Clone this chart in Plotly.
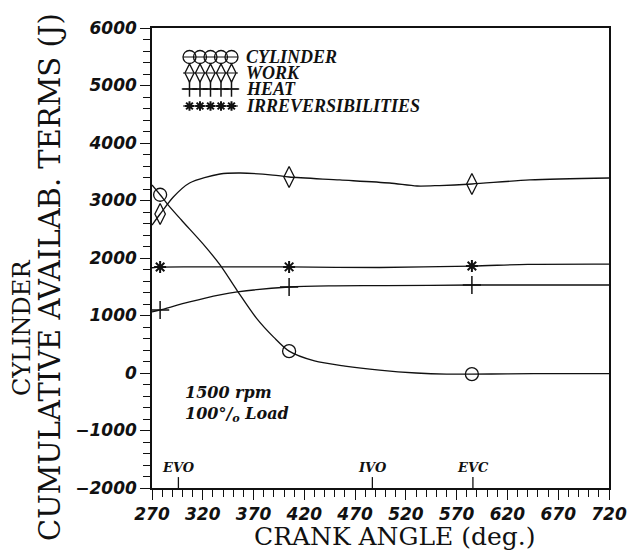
import plotly.graph_objects as go

# ---------------- data ----------------
angle_cyl = [270, 278, 286, 300, 320, 337, 354, 373, 390, 405, 430, 460, 494, 530, 560, 585, 620, 670, 720]
cylinder  = [3270, 3100, 2920, 2640, 2250, 1880, 1430, 950, 620, 380, 210, 120, 50, 0, -20, -20, -15, -10, -10]

angle_work = [270, 278, 291, 307, 337, 357, 389, 405, 455, 504, 531, 553, 585, 642, 720]
work       = [2574, 2765, 3061, 3304, 3461, 3478, 3443, 3409, 3357, 3304, 3252, 3260, 3287, 3357, 3391]

angle_heat = [270, 278, 307, 337, 354, 405, 450, 500, 585, 650, 720]
heat       = [1061, 1096, 1235, 1357, 1409, 1496, 1515, 1520, 1530, 1530, 1530]

angle_irr = [270, 278, 340, 405, 494, 585, 640, 720]
irrev     = [1830, 1843, 1845, 1845, 1835, 1860, 1890, 1895]

marker_angles = [278, 405, 585]

valve_events = ["EVO", "IVO", "EVC"]
valve_angles = [296, 487, 586]

series_names = ["CYLINDER", "WORK", "HEAT", "IRREVERSIBILITIES"]

x_ticks = [270, 320, 370, 420, 470, 520, 570, 620, 670, 720]
y_ticks = [-2000, -1000, 0, 1000, 2000, 3000, 4000, 5000, 6000]

# ---------------- layout geometry ----------------
W, H = 627, 550
L, R, T, B = 152, 18, 28, 62
PW, PH = W - L - R, H - T - B


def px(xp):
    return (xp - L) / PW


def py(yp):
    return (H - B - yp) / PH


SERIF = "Liberation Serif"
WIDE_SERIF = "DejaVu Serif"
SANS = "DejaVu Sans"
INK = "#111111"

styles = [
    dict(symbol="circle-open", size=13, line=dict(width=1.3)),
    dict(symbol="diamond-tall-open", size=15, line=dict(width=1.3)),
    dict(symbol="cross-thin-open", size=13, line=dict(width=1.5)),
    dict(symbol="asterisk-open", size=10, line=dict(width=2)),
]

data_sets = [(angle_cyl, cylinder), (angle_work, work), (angle_heat, heat), (angle_irr, irrev)]

fig = go.Figure()

for (ax, vals), st in zip(data_sets, styles):
    fig.add_trace(go.Scatter(x=ax, y=vals, mode="lines",
                             line=dict(color=INK, width=1.3, shape="spline", smoothing=0.8),
                             hoverinfo="skip", showlegend=False))
    mx = [a for a in ax if a in marker_angles]
    my = [v for a, v in zip(ax, vals) if a in marker_angles]
    fig.add_trace(go.Scatter(x=mx, y=my, mode="markers", marker=dict(color=INK, **st),
                             hoverinfo="skip", showlegend=False))

# ---------------- hand-made legend (pixel overlay axes) ----------------
leg_x = [189.5, 200, 210.5, 221, 231.5]
leg_y = [57, 73, 89, 106]
leg_sizes = [13, 13, 11, 8]
for name, st, yy, sz in zip(series_names, styles, leg_y, leg_sizes):
    fig.add_trace(go.Scatter(x=[183] + leg_x + [238], y=[yy] * 7, mode="lines",
                             line=dict(color=INK, width=1.2), xaxis="x2", yaxis="y2",
                             hoverinfo="skip", showlegend=False))
    st2 = dict(st)
    st2["size"] = sz
    fig.add_trace(go.Scatter(x=leg_x, y=[yy] * 5, mode="markers",
                             marker=dict(color=INK, **st2), xaxis="x2", yaxis="y2",
                             hoverinfo="skip", showlegend=False))
    fig.add_annotation(text="<b><i>%s</i></b>" % name, xref="paper", yref="paper",
                       x=px(244), y=py(yy), xanchor="left", yanchor="middle", showarrow=False,
                       font=dict(family=SERIF, size=18, color=INK))

# ---------------- valve event marks ----------------
for name, a in zip(valve_events, valve_angles):
    fig.add_shape(type="line", x0=a, x1=a, y0=-2000, y1=-1810, xref="x", yref="y",
                  line=dict(color=INK, width=1.3))
    fig.add_annotation(text="<b><i>%s</i></b>" % name, x=a, xref="x", yref="paper", y=py(467),
                       xanchor="center", yanchor="middle", showarrow=False,
                       font=dict(family=WIDE_SERIF, size=13, color=INK))

# operating-point note
fig.add_annotation(text="<b><i>1500 rpm<br>100°/<sub>o</sub> Load</i></b>", xref="paper", yref="paper",
                   x=px(183), y=py(404), xanchor="left", yanchor="middle", align="left",
                   showarrow=False, font=dict(family=WIDE_SERIF, size=16, color=INK))

# axis titles
fig.add_annotation(text="CRANK ANGLE (deg.)", xref="paper", yref="paper", x=px(394), y=py(536),
                   xanchor="center", yanchor="middle", showarrow=False,
                   font=dict(family=WIDE_SERIF, size=25, color=INK))
fig.add_annotation(text="CUMULATIVE AVAILAB. TERMS (J)", xref="paper", yref="paper", x=px(50), y=py(277),
                   xanchor="center", yanchor="middle", textangle=-90, showarrow=False,
                   font=dict(family=WIDE_SERIF, size=29, color=INK))
fig.add_annotation(text="CYLINDER", xref="paper", yref="paper", x=px(22), y=py(328),
                   xanchor="center", yanchor="middle", textangle=-90, showarrow=False,
                   font=dict(family=WIDE_SERIF, size=24, color=INK))

tickfont = dict(family=SANS, size=17, color=INK, weight="bold", style="italic")

fig.update_layout(
    width=W, height=H, margin=dict(l=L, r=R, t=T, b=B, autoexpand=False),
    paper_bgcolor="white", plot_bgcolor="white", showlegend=False,
    xaxis=dict(range=[270, 720], tickmode="array", tickvals=x_ticks, ticks="outside", ticklen=10,
               tickwidth=1.3, tickcolor=INK, showline=True, linecolor=INK, linewidth=1.6, mirror=True,
               showgrid=False, zeroline=False, tickfont=tickfont,
               minor=dict(dtick=10, tick0=270, ticks="outside", ticklen=7, tickwidth=1.1, tickcolor=INK,
                          showgrid=False)),
    yaxis=dict(range=[-2000, 6000], tickmode="array", tickvals=y_ticks, ticks="outside", ticklen=10,
               tickwidth=1.3, tickcolor=INK, showline=True, linecolor=INK, linewidth=1.6, mirror=True,
               showgrid=False, zeroline=False, tickfont=tickfont,
               minor=dict(dtick=200, tick0=0, ticks="outside", ticklen=7, tickwidth=1.1, tickcolor=INK,
                          showgrid=False)),
    xaxis2=dict(overlaying="x", range=[L, W - R], visible=False, anchor="y2"),
    yaxis2=dict(overlaying="y", range=[H - B, T], visible=False, anchor="x2"),
)

fig.write_html("out.html")
